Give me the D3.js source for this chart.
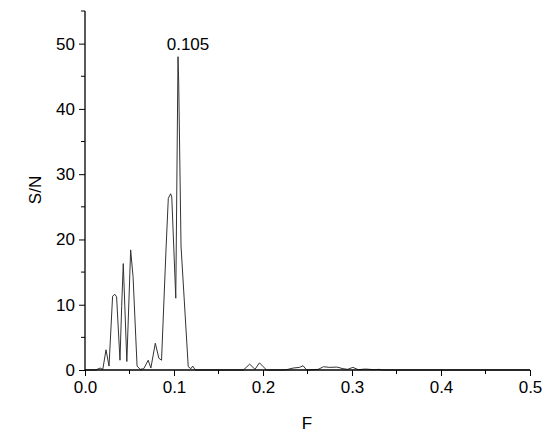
<!DOCTYPE html>
<html>
<head>
<meta charset="utf-8">
<script src="https://cdn.jsdelivr.net/npm/d3@7"></script>
<style>
  html, body { margin: 0; padding: 0; background: #fff; }
  text { font-family: "Liberation Sans", Arial, sans-serif; fill: #000; }
</style>
</head>
<body>
<svg id="chart" width="550" height="437"></svg>
<script>
// Frequency (F) values
const freq = [0, 0.012, 0.017, 0.020, 0.0236, 0.027, 0.031, 0.0335, 0.0355, 0.0393, 0.0412, 0.043, 0.047,
  0.0513, 0.054, 0.0585, 0.062, 0.066, 0.071, 0.074, 0.079, 0.083, 0.086, 0.091, 0.0936, 0.0962, 0.0975,
  0.102, 0.1045, 0.1053, 0.1079, 0.116, 0.119, 0.121, 0.124, 0.178, 0.185, 0.191, 0.196, 0.204, 0.225,
  0.234, 0.241, 0.245, 0.249, 0.262, 0.268, 0.275, 0.283, 0.29, 0.295, 0.301, 0.307, 0.315, 0.325, 0.33,
  0.335, 0.5];
// Signal-to-noise values
const sn = [0, 0, 0.3, 0.1, 3.1, 0.6, 11.3, 11.6, 11.2, 1.5, 9.7, 16.3, 1.3,
  18.4, 14.3, 0.6, 0.1, 0.2, 1.5, 0.3, 4.1, 1.8, 1.5, 18.4, 26.3, 27.0, 26.5,
  11, 48, 44, 19, 0.5, 0.2, 0.6, 0, 0, 0.9, 0.1, 1.1, 0, 0,
  0.3, 0.4, 0.65, 0, 0.1, 0.5, 0.4, 0.45, 0.2, 0.1, 0.4, 0.05, 0.15, 0.05, 0.1,
  0, 0];
const xTicks = [0, 0.1, 0.2, 0.3, 0.4, 0.5];
const xMinor = [0.05, 0.15, 0.25, 0.35, 0.45];
const yTicks = [0, 10, 20, 30, 40, 50];
const yMinor = [5, 15, 25, 35, 45, 55];
const peakLabel = "0.105";
const peakF = 0.1045, peakV = 48;

const svg = d3.select("#chart");
const x = d3.scaleLinear().domain([0, 0.5]).range([85, 530]);
const y = d3.scaleLinear().domain([0, 55]).range([370, 11]);

// data line
const data = freq.map((f, i) => [f, sn[i]]);
svg.append("path")
  .datum(data)
  .attr("fill", "none")
  .attr("stroke", "#333")
  .attr("stroke-width", 1)
  .attr("d", d3.line().x(d => x(d[0])).y(d => y(d[1])));

// x axis
const xAxis = svg.append("g").attr("transform", "translate(0,370)");
xAxis.call(d3.axisBottom(x).tickValues(xTicks).tickFormat(d3.format(".1f")).tickSize(6).tickPadding(5));
xAxis.append("g").selectAll("line").data(xMinor).join("line")
  .attr("x1", d => x(d)).attr("x2", d => x(d)).attr("y1", 0).attr("y2", 4)
  .attr("stroke", "#000");
xAxis.selectAll(".domain").attr("d", `M${x(0)},0H${x(0.5)}`).attr("stroke", "#000").attr("stroke-width", 1.3);
xAxis.selectAll("text").style("font-size", "17px").attr("font-family", null);

// y axis
const yAxis = svg.append("g").attr("transform", "translate(85,0)");
yAxis.call(d3.axisLeft(y).tickValues(yTicks).tickSize(6).tickPadding(4));
yAxis.append("g").selectAll("line").data(yMinor).join("line")
  .attr("x1", -4).attr("x2", 0).attr("y1", d => y(d)).attr("y2", d => y(d))
  .attr("stroke", "#000");
yAxis.selectAll(".domain").attr("d", `M0,${y(55)}V${y(0)}`).attr("stroke", "#000").attr("stroke-width", 1.3);
yAxis.selectAll("text").style("font-size", "17px").attr("font-family", null);

// axis titles
svg.append("text").attr("x", 307).attr("y", 429).attr("text-anchor", "middle")
  .style("font-size", "17px").text("F");
svg.append("text").attr("transform", "translate(41,190) rotate(-90)").attr("text-anchor", "middle")
  .style("font-size", "17px").text("S/N");

// peak label
svg.append("text").attr("x", x(peakF) + 10).attr("y", y(peakV) - 7).attr("text-anchor", "middle")
  .style("font-size", "17px").text(peakLabel);
</script>
</body>
</html>
